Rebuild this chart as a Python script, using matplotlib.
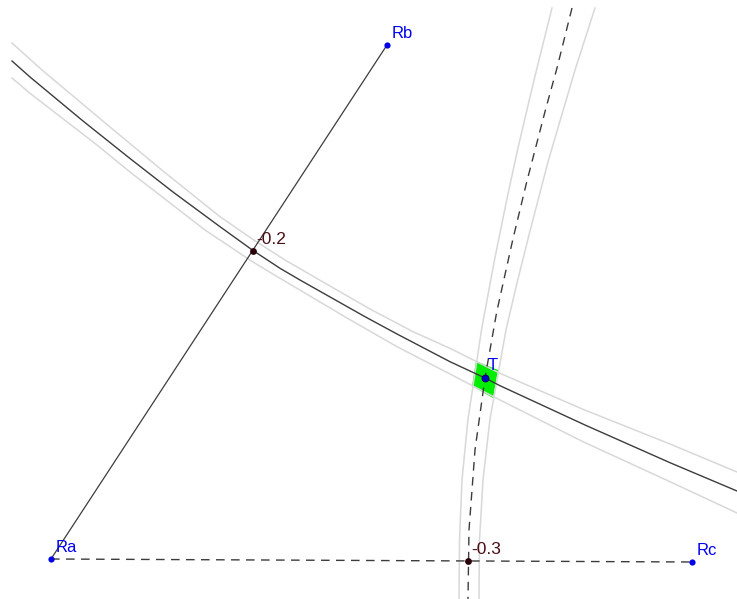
import matplotlib

matplotlib.use("Agg")
import matplotlib.pyplot as plt
from matplotlib.patches import Polygon

plt.rcParams["font.family"] = ["Liberation Sans", "DejaVu Sans"]

curve_x = [12, 30, 83, 130, 173, 220, 253, 280, 300, 365, 397, 450, 485, 500, 585, 670, 737]
curve_y = [61, 77, 121, 158.5, 192, 226.7, 250.5, 268.3, 280, 316.7, 334, 361.7, 378, 385.7, 425, 462.7, 491]
upper_x = [12, 42, 110, 163, 220, 253, 285, 323, 370, 413, 450, 500, 583, 670, 737]
upper_y = [43, 70, 127, 171, 216.7, 239.5, 260, 282, 309, 331.7, 348.3, 373.3, 409.3, 444, 472]
lower_x = [12, 30, 97, 130, 205, 253, 280, 347, 397, 450, 473, 500, 583, 670, 737]
lower_y = [78, 93.3, 145, 172, 230, 262, 278.3, 318, 346.7, 374, 386, 400, 441.7, 481.7, 513]

dash_x = [572, 557, 545.7, 526.7, 512.7, 496.7, 485, 475, 469, 468]
dash_y = [8, 68, 109, 182, 240, 312, 378, 450, 530, 599]
left_x = [552, 537, 529.3, 517.5, 506.7, 494.5, 483.3, 481.5, 468, 462, 459.5, 459]
left_y = [8, 68, 100, 150, 200, 260, 320, 330, 419, 480, 540, 599]
right_x = [595, 575, 566.2, 548.5, 529.5, 517, 508.3, 506, 490, 483, 479.5, 479]
right_y = [8, 70, 100, 160, 233, 283, 320, 330, 419, 480, 540, 599]

patch_xy = [(476, 361), (498, 370), (493, 398), (472, 386)]

blue_names = ["Ra", "Rb", "Rc"]
blue_x = [51, 387, 692]
blue_y = [559, 45, 562]
dark_names = ["-0.2", "-0.3"]
dark_x = [253, 468]
dark_y = [251, 561]
t_x = 485
t_y = 378

fig = plt.figure(figsize=(7.37, 5.99), dpi=100)
ax = fig.add_axes([0, 0, 1, 1])
ax.set_xlim(0, 737)
ax.set_ylim(599, 0)
ax.axis("off")

ax.add_patch(Polygon(patch_xy, closed=True, color="#00ee00", lw=0, zorder=1))

gray = "#d8d8d8"
ax.plot(upper_x, upper_y, color=gray, lw=1.1, zorder=2)
ax.plot(lower_x, lower_y, color=gray, lw=1.1, zorder=2)
ax.plot(left_x, left_y, color=gray, lw=1.1, zorder=2)
ax.plot(right_x, right_y, color=gray, lw=1.1, zorder=2)

line = "#3c3c3c"
ax.plot(curve_x, curve_y, color=line, lw=1.0, zorder=3)
ax.plot(dash_x, dash_y, color=line, lw=1.0, ls=(0, (6.2, 4.6)), zorder=3)
ax.plot([blue_x[0], blue_x[1]], [blue_y[0], blue_y[1]], color=line, lw=0.9, zorder=3)
ax.plot([blue_x[0], blue_x[2]], [blue_y[0], blue_y[2]], color=line, lw=1.0, ls=(0, (6.2, 4.6)), zorder=3)

ax.scatter(blue_x, blue_y, s=20, color="#0000e6", zorder=5, lw=0)
ax.scatter([t_x], [t_y], s=26, color="#0000cc", edgecolor="#000033", lw=0.5, zorder=5)
ax.scatter(dark_x, dark_y, s=24, color="#2a0008", zorder=5, lw=0)

for name, x, y in zip(blue_names, blue_x, blue_y):
    ax.text(x + 5, y - 4, name, color="#0000f0", fontsize=12, va="bottom", ha="left", zorder=6)
ax.text(t_x + 3, t_y - 5, "T", color="#0000f0", fontsize=12, va="bottom", ha="left", zorder=6)
for name, x, y in zip(dark_names, dark_x, dark_y):
    ax.text(x + 3, y - 4, name, color="#4a0f14", fontsize=12.5, va="bottom", ha="left", zorder=6)

fig.savefig("out.png", dpi=100, facecolor="white")
